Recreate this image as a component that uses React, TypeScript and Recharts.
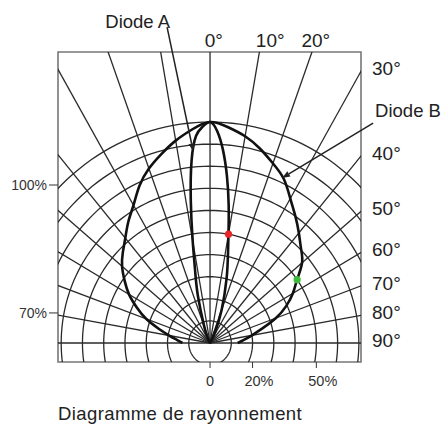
import React from 'react';
import {
  ComposedChart,
  Line,
  Scatter,
  Cell,
  XAxis,
  YAxis,
  ReferenceArea,
  ReferenceLine,
  ReferenceDot,
} from 'recharts';

// polar grid: rings in % of max intensity, spokes every 10 degrees
const ringLevels = [10, 20, 30, 40, 50, 60, 70, 80, 90, 100];
const spokeAngles = [-90, -80, -70, -60, -50, -40, -30, -20, -10, 0, 10, 20, 30, 40, 50, 60, 70, 80, 90];

// Diode A: narrow beam (angle in degrees, relative intensity in %)
const diodeAAngles = [-40, -30, -25, -20, -15, -12, -10, -8, -6, -4, -2, 0, 2, 4, 6, 8, 10, 12, 15, 20, 25, 30, 40];
const diodeAValues = [0, 1, 3, 8, 22, 34, 47, 65, 83, 94, 98, 100, 96, 87.5, 76, 63, 50, 40.5, 30, 16, 6, 1, 0];

// Diode B: wide beam
const diodeBAngles = [
  -90, -85, -80, -75, -70, -65, -60, -55, -50, -45, -40, -35, -30, -25, -20, -15, -10, -5, 0,
  5, 10, 15, 20, 25, 30, 35, 40, 45, 50, 55, 60, 65, 70, 75, 80, 85, 90,
];
const diodeBValues = [
  13, 15.5, 19.5, 25, 32, 38, 44, 49, 54, 58, 62, 67, 72, 78.5, 84, 88.5, 93, 97, 100,
  98, 95, 91, 86.5, 82, 75.5, 70, 65, 60.5, 56.5, 50, 45, 39.5, 33, 25.5, 20, 16, 13,
];

// half-intensity marks
const halfAngles = [10, 55];
const halfValues = [50, 50];
const halfColors = ['#e8262a', '#3dbb3a'];

const topAngleLabels = [0, 10, 20];
const topLabelNudge = [0, 7, 0];
const sideAngleLabels = [30, 40, 50, 60, 70, 80, 90];

const xTickValues = [0, 20, 50];
const yTickValues = [71.5, 13.6];
const yTickLabels = ['100%', '70%'];

const X_DOMAIN: [number, number] = [-71.5, 71];
const Y_DOMAIN: [number, number] = [-8.6, 131.7];

const FONT = '"Liberation Sans", Arial, Helvetica, sans-serif';
const INK = '#222';

const rad = (d: number) => (d * Math.PI) / 180;
const polar = (angle: number, value: number) => ({
  x: value * Math.sin(rad(angle)),
  y: value * Math.cos(rad(angle)),
});

const ringSteps = Array.from({ length: 181 }, (_, i) => i * 2);
const rings = ringLevels.map((r) => ringSteps.map((a) => polar(a, r)));
const spokes = spokeAngles.map((a) => [{ x: 0, y: 0 }, polar(a, 250)]);
const diodeA = diodeAAngles.map((a, i) => polar(a, diodeAValues[i]));
const diodeB = diodeBAngles.map((a, i) => polar(a, diodeBValues[i]));
const halfPoints = halfAngles.map((a, i) => polar(a, halfValues[i]));

const leaders = [
  { label: 'Diode A', from: { x: -20.2, y: 143 }, tip: polar(-5.2, 87), anchor: 'end', dx: 3, dy: -6 },
  { label: 'Diode B', from: { x: 76.7, y: 99.5 }, tip: polar(24.4, 82), anchor: 'start', dx: 2, dy: -13 },
];

const leaderShape = (label: string, anchor: string, dx: number, dy: number) => (p: any) => {
  const { x1, y1, x2, y2 } = p;
  const ang = Math.atan2(y2 - y1, x2 - x1);
  const len = 8;
  const half = 3;
  const bx = x2 - len * Math.cos(ang);
  const by = y2 - len * Math.sin(ang);
  const s = Math.sin(ang);
  const c = Math.cos(ang);
  const pts = `${x2},${y2} ${bx - half * s},${by + half * c} ${bx + half * s},${by - half * c}`;
  return (
    <g>
      <line x1={x1} y1={y1} x2={bx} y2={by} stroke={INK} strokeWidth={1.5} />
      <polygon points={pts} fill={INK} />
      <text
        x={x1 + dx}
        y={y1 + dy}
        textAnchor={anchor as any}
        dominantBaseline="central"
        fontSize={18.5}
        fontFamily={FONT}
        fill={INK}
      >
        {label}
      </text>
    </g>
  );
};

const XTick = (p: any) => {
  const { x, y, payload } = p;
  const num = String(payload.value);
  const w = num.length * 0.556 * 14.5;
  return (
    <text x={x - w / 2} y={y} dy="0.71em" textAnchor="start" fontSize={14.5} fontFamily={FONT} fill="#333">
      {payload.value === 0 ? num : num + '%'}
    </text>
  );
};

export default function App() {
  return (
    <div style={{ position: 'absolute', left: 0, top: 0, width: 445, height: 426, background: '#fff' }}>
      <ComposedChart width={445} height={426} margin={{ top: 52, right: 84, bottom: 34, left: 8 }}>
        <XAxis
          type="number"
          dataKey="x"
          domain={X_DOMAIN}
          allowDataOverflow
          ticks={xTickValues}
          interval={0}
          axisLine={false}
          tickLine={{ stroke: '#333' }}
          tickSize={6}
          tickMargin={8}
          height={30}
          tick={XTick}
        />
        <YAxis
          type="number"
          dataKey="y"
          domain={Y_DOMAIN}
          allowDataOverflow
          ticks={yTickValues}
          interval={0}
          axisLine={false}
          tickLine={{ stroke: '#333' }}
          tickSize={9}
          tickMargin={2}
          width={50}
          tickFormatter={(v: number) => yTickLabels[yTickValues.indexOf(v)] ?? ''}
          tick={{ fontSize: 14, fontFamily: FONT, fill: '#333' }}
        />
        {rings.map((pts, i) => (
          <Line
            key={'ring' + i}
            data={pts}
            dataKey="y"
            type="linear"
            stroke="#2a2a2a"
            strokeWidth={1.3}
            dot={false}
            activeDot={false}
            isAnimationActive={false}
          />
        ))}
        {spokes.map((pts, i) => (
          <Line
            key={'spoke' + i}
            data={pts}
            dataKey="y"
            type="linear"
            stroke="#2a2a2a"
            strokeWidth={1.3}
            dot={false}
            activeDot={false}
            isAnimationActive={false}
          />
        ))}
        <Line
          data={diodeB}
          dataKey="y"
          type="natural"
          stroke="#111"
          strokeWidth={2.6}
          dot={false}
          activeDot={false}
          isAnimationActive={false}
        />
        <Line
          data={diodeA}
          dataKey="y"
          type="natural"
          stroke="#111"
          strokeWidth={2.6}
          dot={false}
          activeDot={false}
          isAnimationActive={false}
        />
        <Scatter
          data={halfPoints}
          isAnimationActive={false}
          shape={(p: any) => <circle cx={p.cx} cy={p.cy} r={3.6} fill={p.fill} />}
        >
          {halfPoints.map((_, i) => (
            <Cell key={i} fill={halfColors[i]} />
          ))}
        </Scatter>
        <ReferenceArea
          x1={X_DOMAIN[0]}
          x2={X_DOMAIN[1]}
          y1={Y_DOMAIN[0]}
          y2={Y_DOMAIN[1]}
          fill="none"
          fillOpacity={0}
          stroke="#777"
          strokeWidth={1.6}
          ifOverflow="visible"
        />
        {leaders.map((l) => (
          <ReferenceLine
            key={l.label}
            segment={[l.from, l.tip]}
            ifOverflow="visible"
            shape={leaderShape(l.label, l.anchor, l.dx, l.dy)}
          />
        ))}
        {topAngleLabels.map((a, i) => (
          <ReferenceDot
            key={'top' + a}
            x={Y_DOMAIN[1] * Math.tan(rad(a))}
            y={Y_DOMAIN[1]}
            r={1}
            ifOverflow="visible"
            shape={(p: any) => {
              const w = String(a).length * 0.556 * 19;
              return (
                <text
                  x={p.cx - w / 2 + topLabelNudge[i]}
                  y={p.cy - 12}
                  dominantBaseline="central"
                  fontSize={19}
                  fontFamily={FONT}
                  fill={INK}
                >
                  {a}°
                </text>
              );
            }}
          />
        ))}
        {sideAngleLabels.map((a) => (
          <ReferenceDot
            key={'side' + a}
            x={X_DOMAIN[1]}
            y={a === 90 ? 0 : X_DOMAIN[1] / Math.tan(rad(a))}
            r={1}
            ifOverflow="visible"
            shape={(p: any) => (
              <text
                x={p.cx + 11}
                y={p.cy - 2.5}
                dominantBaseline="central"
                fontSize={19}
                fontFamily={FONT}
                fill={INK}
              >
                {a}°
              </text>
            )}
          />
        ))}
      </ComposedChart>
      <div
        style={{
          position: 'absolute',
          left: 58,
          top: 404,
          fontFamily: FONT,
          fontSize: 18.5,
          lineHeight: '20px',
          letterSpacing: 0.4,
          color: INK,
          whiteSpace: 'nowrap',
        }}
      >
        Diagramme de rayonnement
      </div>
    </div>
  );
}
